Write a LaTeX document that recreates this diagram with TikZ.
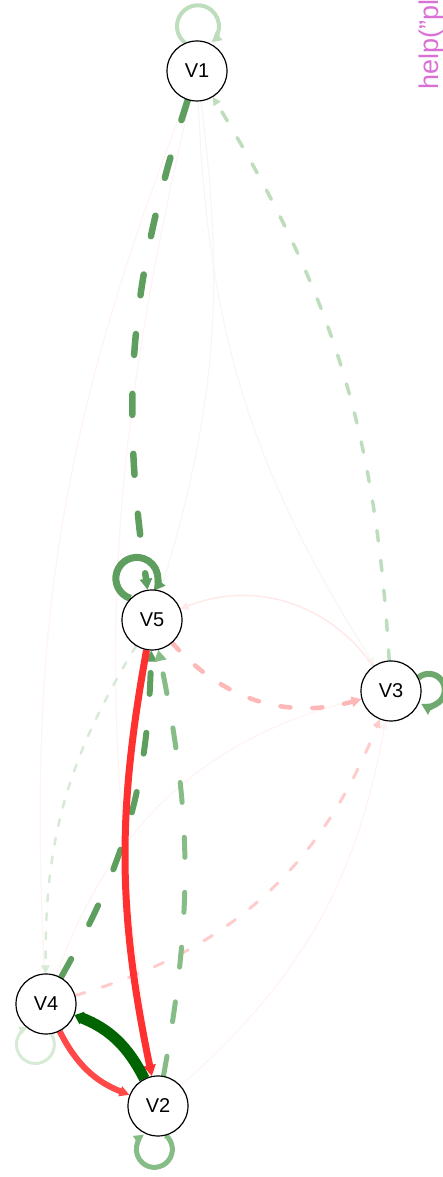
\documentclass[tikz,border=0pt]{standalone}
\usepackage{fontspec}
\setmainfont{Liberation Sans}
\usetikzlibrary{arrows.meta}
\pgfdeclarelayer{bg}
\pgfsetlayers{bg,main}
\definecolor{cdg}{HTML}{5E9E5E}
\definecolor{cmg}{HTML}{86BC86}
\definecolor{clg}{HTML}{BDDDBD}
\definecolor{cvlg}{HTML}{D6EAD6}
\definecolor{cdark}{HTML}{006400}
\definecolor{cred}{HTML}{FF3030}
\definecolor{cred2}{HTML}{FF4848}
\definecolor{cpink}{HTML}{FFB8B8}
\definecolor{cpink2}{HTML}{FFCCCC}
\definecolor{cfp}{HTML}{FFF3F3}
\definecolor{cfg}{HTML}{F5F7F5}
\definecolor{chelp}{HTML}{DA70D6}
\tikzset{
  vtx/.style={circle, draw=black, line width=1.2pt, fill=white, minimum size=60pt, inner sep=0pt, font=\fontsize{20}{22}\selectfont},
  tipS/.style={-{Triangle[length=8pt,width=8pt]}},
  tipM/.style={-{Triangle[length=10pt,width=10pt]}},
  tipL/.style={-{Triangle[length=11pt,width=12pt]}},
  faintP/.style={draw=cfp, line width=1.2pt, tipS},
  faintG/.style={draw=cfg, line width=1.2pt, tipS},
  rc/.style={line cap=round},
}
\begin{document}
\begin{tikzpicture}[x=1pt,y=1pt]
\useasboundingbox (0,0) rectangle (443,1177);
\clip (0,0) rectangle (443,1177);
\node[vtx] (V1) at (197,1106) {V1};
\node[vtx] (V5) at (152,557) {V5};
\node[vtx] (V3) at (391,486) {V3};
\node[vtx] (V4) at (46,173) {V4};
\node[vtx] (V2) at (158,71) {V2};
\node[rotate=90, anchor=base west, text=chelp, inner sep=0pt, font=\fontsize{27}{30}\selectfont] (help) at (438,1087) {help("pl};
\begin{pgfonlayer}{bg}
% faint edges
\draw[faintP] (V1) to[bend right=12] (V4);
\draw[faintP] (V1) to[bend right=11] (V2);
\draw[faintG] (V1) to[bend left=12] (V5);
\draw[faintG] (V1) to[bend right=15] (V3);
\draw[faintP] (V4) to[bend left=28] (V3);
\draw[faintP] (V2) to[bend right=19] (V3);
\draw[draw=cfp!75!cpink2, line width=1.5pt, tipS] (V3) to[bend right=38] (V5);
% main edges
\draw[clg, line width=3.5pt, rc, dash pattern=on 10.5pt off 19.5pt, tipS] (V3) to[bend right=14] (V1);
\draw[cpink, line width=4.5pt, rc, dash pattern=on 10pt off 22pt, tipM] (V5) to[bend right=32] (V3);
\draw[cpink2, line width=3pt, rc, dash pattern=on 10pt off 18pt, tipS] (V4) to[bend right=26] (V3);
\draw[cvlg, line width=2.5pt, rc, dash pattern=on 7pt off 12pt, tipS] (V5) to[bend right=16] (V4);
\draw[cdg, line width=6.5pt, rc, dash pattern=on 21pt off 39pt, tipL] (V1) to[bend right=13] (V5);
\draw[cdg, line width=6pt, rc, dash pattern=on 21pt off 39pt, tipL] (V4) to[bend right=14] (V5);
\draw[cred, line width=7pt, tipL] (V5) to[bend right=11] (V2);
\draw[cmg, line width=5pt, rc, dash pattern=on 20pt off 35pt, tipL] (V2) to[bend right=11] (V5);
\draw[cred2, line width=6pt, tipM] (V4) to[bend right=21] (V2);
\draw[cdark, line width=11pt, -{Triangle[length=8pt,width=13pt]}] (V2) to[bend right=21] (V4);
% loops
\draw[clg, line width=4pt, tipM] (V1.113) arc[start angle=232, end angle=-50, radius=21];
\draw[cdg, line width=7pt, tipL] (V5.135) arc[start angle=252, end angle=-36, radius=21];
\draw[cdg!90!white, line width=6pt, tipL] (V3.26) arc[start angle=130, end angle=-118, radius=16];
\draw[cvlg, line width=3pt, tipS] (V4.-80) arc[start angle=33, end angle=-245, radius=19];
\draw[cmg, line width=5pt, tipM] (V2.-75) arc[start angle=50, end angle=-235, radius=18];
\end{pgfonlayer}
\end{tikzpicture}
\end{document}
